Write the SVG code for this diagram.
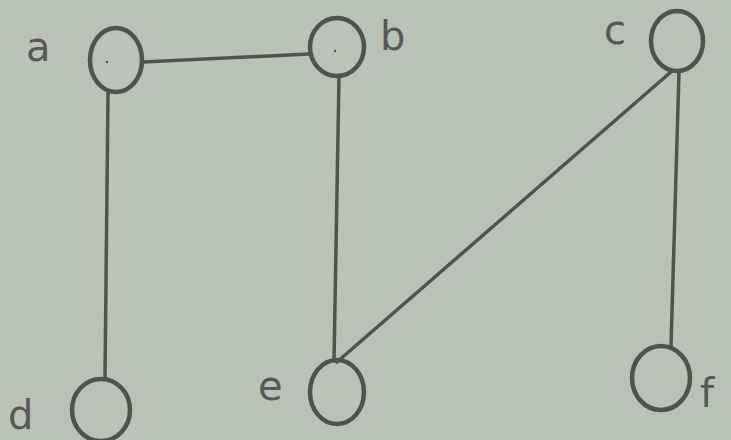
<svg xmlns="http://www.w3.org/2000/svg" width="731" height="440" viewBox="0 0 731 440">
<style>
.n{fill:none;stroke:#4f534f;stroke-width:4.5}
.e{stroke:#4f534f;stroke-width:3.5;stroke-linecap:round;fill:none}
.t{font-family:"DejaVu Sans",sans-serif;font-size:40px;fill:#555955}
.dot{fill:#4f534f}
</style>
<rect width="731" height="440" fill="#b8c3b5"/>
<g id="connectors">
<line class="e" x1="143" y1="62" x2="309" y2="54"/>
<line class="e" x1="108" y1="93" x2="105" y2="378"/>
<line class="e" x1="339" y1="77" x2="334" y2="361"/>
<line class="e" x1="672" y1="71" x2="337" y2="362"/>
<line class="e" x1="679" y1="72" x2="671" y2="346"/>
</g>
<g id="node-a"><ellipse class="n" cx="116" cy="60" rx="26" ry="32"/><circle class="dot" cx="107" cy="62" r="1.2"/><text class="t" x="26" y="61">a</text></g>
<g id="node-b"><ellipse class="n" cx="337" cy="47" rx="27" ry="29" stroke-width="6"/><circle class="dot" cx="335" cy="51" r="1.2"/><text class="t" x="380" y="50">b</text></g>
<g id="node-c"><ellipse class="n" cx="677" cy="41" rx="26" ry="30"/><text class="t" x="604" y="44">c</text></g>
<g id="node-d"><ellipse class="n" cx="101" cy="410" rx="29" ry="31"/><text class="t" x="8" y="429">d</text></g>
<g id="node-e"><ellipse class="n" cx="337" cy="392" rx="27" ry="32"/><text class="t" x="258" y="400">e</text></g>
<g id="node-f"><ellipse class="n" cx="661" cy="378" rx="29" ry="32"/><text class="t" x="700" y="407">f</text></g>
</svg>
